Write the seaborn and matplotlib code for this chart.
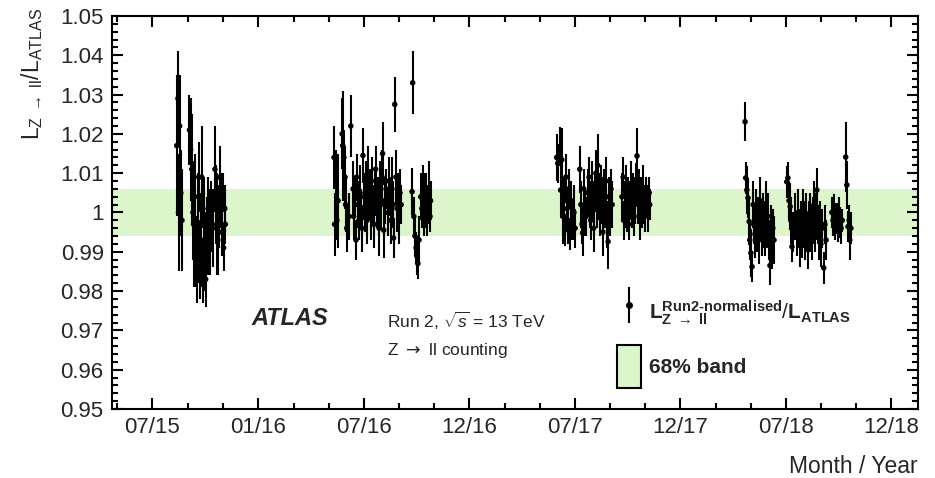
import matplotlib
matplotlib.use("Agg")
import matplotlib.pyplot as plt
import seaborn as sns
import pandas as pd
import numpy as np
from matplotlib.lines import Line2D
from matplotlib.patches import Patch
from matplotlib.legend_handler import HandlerTuple

# run day (days after 1 July 2015), ratio L_Z->ll / L_ATLAS and its uncertainty
day_2015 = [43, 45, 46, 48, 50, 52, 65, 67, 69, 71, 72, 74, 76, 78, 79, 81, 83, 85, 86, 88,
            90, 91, 93, 95, 97, 98, 100, 102, 105, 109, 110, 112, 114, 116, 117, 119, 121, 123,
            124, 126, 127]
ratio_2015 = [1.017, 1.029, 1.000, 1.022, 1.005, 0.998, 1.021, 1.016, 1.011, 1.000, 0.997,
              1.004, 0.990, 0.985, 0.996, 1.009, 0.988, 0.993, 1.009, 0.985, 0.998, 0.990,
              0.983, 0.994, 1.001, 0.995, 0.992, 0.999, 0.996, 1.011, 1.002, 0.997, 0.993,
              0.999, 1.009, 1.003, 0.995, 1.005, 0.991, 1.001, 0.997]
err_2015 = [0.018, 0.012, 0.015, 0.013, 0.011, 0.013, 0.009, 0.013, 0.014, 0.012, 0.016,
            0.011, 0.009, 0.008, 0.014, 0.009, 0.010, 0.012, 0.013, 0.008, 0.011, 0.010,
            0.007, 0.010, 0.008, 0.011, 0.008, 0.009, 0.010, 0.011, 0.010, 0.013, 0.009,
            0.008, 0.008, 0.007, 0.006, 0.005, 0.006, 0.006, 0.005]

day_2016 = [315, 316, 318, 320, 322, 329, 330, 332, 334, 335, 337, 341, 344, 348, 349, 351,
            353, 354, 356, 358, 360, 361, 363, 365, 367, 368, 370, 372, 373, 375, 377, 379,
            380, 382, 384, 386, 387, 389, 391, 393, 394, 396, 398, 399, 401, 403, 405, 408,
            410, 412, 413, 415, 417, 418, 420, 422, 424, 425, 427, 429, 431, 450, 451, 453,
            455, 457, 458, 460, 462, 465, 467, 469, 470, 472, 474, 476, 477, 479, 481, 482]
ratio_2016 = [1.014, 0.997, 1.009, 0.998, 1.003, 1.020, 1.017, 1.014, 1.009, 1.002,
              0.996, 0.999, 1.022, 1.006, 0.999, 1.004, 0.993, 1.009, 1.002, 0.998,
              1.005, 1.001, 0.996, 1.0145, 1.004, 1.000, 1.007, 0.998, 1.010, 1.003,
              1.006, 0.999, 1.008, 1.002, 0.997, 1.005, 1.011, 1.001, 1.004, 0.996,
              1.007, 1.002, 1.009, 1.015, 0.9955, 1.003, 1.006, 1.000, 1.008, 1.004,
              0.998, 1.006, 1.002, 0.9935, 1.0275, 1.009, 1.001, 1.004, 0.999, 1.005,
              1.002, 1.0053, 1.033, 0.999, 0.994, 0.991, 0.989, 0.987, 0.993, 1.004,
              1.001, 1.006, 0.999, 1.003, 1.005, 1.000, 1.002, 1.006, 0.999, 1.003]
err_2016 = [0.008, 0.008, 0.007, 0.005, 0.012, 0.009, 0.014, 0.007, 0.008, 0.007,
            0.006, 0.006, 0.008, 0.007, 0.006, 0.005, 0.005, 0.006, 0.006, 0.005,
            0.007, 0.005, 0.006, 0.007, 0.006, 0.005, 0.006, 0.006, 0.007, 0.005,
            0.005, 0.006, 0.006, 0.005, 0.006, 0.006, 0.006, 0.005, 0.005, 0.007,
            0.006, 0.006, 0.007, 0.008, 0.007, 0.006, 0.005, 0.006, 0.006, 0.005,
            0.006, 0.008, 0.006, 0.005, 0.007, 0.007, 0.006, 0.006, 0.007, 0.006,
            0.005, 0.006, 0.008, 0.005, 0.005, 0.004, 0.005, 0.004, 0.006, 0.006,
            0.005, 0.006, 0.005, 0.007, 0.005, 0.006, 0.005, 0.007, 0.004, 0.005]

day_2017 = [700, 702, 706, 707, 709, 711, 713, 714, 716, 718, 719, 721, 723, 725, 726, 730,
            732, 740, 742, 744, 745, 747, 749, 751, 754, 756, 758, 759, 761, 763, 764, 766,
            768, 770, 771, 773, 775, 777, 778, 780, 782, 784, 785, 787, 789, 790, 792, 794,
            796, 813, 815, 816, 818, 820, 822, 823, 825, 827, 828, 830, 832, 834, 835, 837,
            839, 841, 842, 844, 846, 848, 849, 851, 853, 854, 856, 858, 860, 861]
ratio_2017 = [1.014, 1.0125, 1.0167, 1.0057, 1.0134, 0.999, 1.003, 0.9955, 1.009, 1.001,
              0.997, 1.006, 0.9945, 1.003, 0.998, 1.000, 0.996, 1.011, 1.002, 0.997,
              0.9948, 1.006, 1.000, 0.999, 1.005, 1.009, 1.002, 0.998, 1.007, 1.003,
              0.996, 1.005, 1.010, 1.001, 1.012, 1.004, 0.999, 1.007, 1.003, 0.995,
              1.006, 1.001, 1.008, 0.997, 0.9926, 1.004, 1.000, 1.006, 1.002, 1.004,
              1.009, 0.998, 1.002, 1.006, 1.000, 1.004, 0.997, 1.003, 1.007, 1.001,
              1.005, 0.999, 1.003, 1.0075, 1.0144, 1.002, 1.005, 0.998, 1.004, 1.001,
              1.006, 1.002, 0.999, 1.004, 1.003, 1.000, 1.005, 1.002]
err_2017 = [0.006, 0.005, 0.005, 0.007, 0.008, 0.007, 0.006, 0.004, 0.006, 0.005,
            0.005, 0.005, 0.004, 0.005, 0.005, 0.007, 0.005, 0.006, 0.006, 0.005,
            0.006, 0.005, 0.006, 0.005, 0.006, 0.005, 0.006, 0.005, 0.006, 0.005,
            0.006, 0.005, 0.006, 0.005, 0.008, 0.006, 0.005, 0.005, 0.006, 0.006,
            0.005, 0.005, 0.006, 0.006, 0.007, 0.005, 0.006, 0.005, 0.006, 0.006,
            0.005, 0.005, 0.006, 0.006, 0.005, 0.005, 0.004, 0.005, 0.006, 0.005,
            0.005, 0.005, 0.006, 0.005, 0.007, 0.005, 0.006, 0.005, 0.005, 0.005,
            0.006, 0.005, 0.004, 0.005, 0.004, 0.005, 0.004, 0.004]

day_2018 = [1026, 1027, 1029, 1031, 1033, 1034, 1036, 1038, 1040, 1041, 1043, 1045, 1046,
            1048, 1050, 1052, 1053, 1055, 1057, 1059, 1060, 1062, 1064, 1065, 1067, 1069,
            1071, 1072, 1074, 1076, 1098, 1100, 1102, 1104, 1105, 1107, 1109, 1112, 1116,
            1117, 1119, 1121, 1123, 1124, 1126, 1128, 1130, 1131, 1133, 1135, 1136, 1138,
            1140, 1142, 1143, 1145, 1147, 1149, 1150, 1152, 1154, 1155, 1157, 1159, 1162,
            1164, 1166, 1176, 1178, 1180, 1181, 1183, 1185, 1187, 1188, 1190, 1192, 1194,
            1200, 1202, 1204, 1206, 1207, 1209]
ratio_2018 = [1.0231, 1.0088, 1.0057, 1.0037, 0.9977, 0.993, 0.9897, 0.9862, 1.002, 0.997,
              0.9945, 1.001, 0.996, 0.999, 0.993, 1.003, 0.998, 0.995, 1.000, 0.997,
              0.994, 1.002, 0.996, 0.999, 0.993, 0.9865, 0.997, 0.9915, 0.996, 0.993,
              1.0078, 1.0088, 1.003, 1.0015, 0.998, 0.9913, 0.995, 0.999,
              0.994, 1.000, 0.996, 0.992, 0.998, 0.9945, 1.001, 0.997, 0.993, 0.999,
              0.995, 0.9905, 0.997, 1.000, 0.996, 0.993, 0.998, 1.002, 0.995, 0.999,
              1.0057, 0.997, 0.994, 0.998, 0.992, 0.996,
              0.9859, 0.997, 0.993,
              1.000, 0.998, 1.0006, 0.997, 0.9995, 0.9985, 0.9965, 1.000, 0.9975, 0.996, 0.998,
              1.0141, 1.007, 0.9964, 0.998, 0.993, 0.996]
err_2018 = [0.005, 0.004, 0.006, 0.005, 0.006, 0.005, 0.006, 0.004, 0.006, 0.005,
            0.006, 0.005, 0.006, 0.005, 0.006, 0.006, 0.005, 0.006, 0.005, 0.006,
            0.005, 0.006, 0.005, 0.006, 0.005, 0.005, 0.005, 0.006, 0.005, 0.006,
            0.004, 0.004, 0.005, 0.006, 0.006, 0.004, 0.005, 0.006,
            0.005, 0.006, 0.005, 0.006, 0.005, 0.006, 0.005, 0.006, 0.005, 0.006,
            0.005, 0.005, 0.006, 0.005, 0.006, 0.005, 0.006, 0.006, 0.005, 0.006,
            0.0055, 0.005, 0.006, 0.005, 0.006, 0.005,
            0.004, 0.005, 0.005,
            0.004, 0.004, 0.004, 0.004, 0.003, 0.004, 0.004, 0.004, 0.004, 0.004, 0.003,
            0.009, 0.006, 0.004, 0.004, 0.005, 0.004]

band_half_width = 0.006
tick_dates = ["2015-07-02", "2016-01-01", "2016-07-01", "2016-12-31",
              "2017-07-01", "2017-12-31", "2018-07-01", "2018-12-31"]
y_ticks = [0.95, 0.96, 0.97, 0.98, 0.99, 1.00, 1.01, 1.02, 1.03, 1.04, 1.05]

t0 = pd.Timestamp("2015-07-01")
frames = []
for d, r, e in [(day_2015, ratio_2015, err_2015), (day_2016, ratio_2016, err_2016),
                (day_2017, ratio_2017, err_2017), (day_2018, ratio_2018, err_2018)]:
    frames.append(pd.DataFrame({"day": d, "ratio": r, "err": e}))
df = pd.concat(frames, ignore_index=True)
df["date"] = t0 + pd.to_timedelta(df["day"], unit="D")

sns.set_style("ticks")
plt.rcParams["font.family"] = ["Liberation Sans", "DejaVu Sans"]
plt.rcParams["mathtext.fontset"] = "custom"
plt.rcParams["mathtext.rm"] = "Liberation Sans"
plt.rcParams["mathtext.it"] = "Liberation Sans:italic"
plt.rcParams["mathtext.bf"] = "Liberation Sans:bold"

band_color = "#dcf5cb"
fig = plt.figure(figsize=(9.35, 4.78), dpi=100)
ax = fig.add_axes([0.1198, 0.1444, 0.862, 0.8222])

ax.axhspan(1 - band_half_width, 1 + band_half_width, color=band_color, lw=0, zorder=0)
ax.errorbar(df["date"], df["ratio"], yerr=df["err"], fmt="none", ecolor="black",
            elinewidth=1.5, capsize=0, zorder=2)
sns.scatterplot(data=df, x="date", y="ratio", color="black", s=16, edgecolor="none",
                ax=ax, zorder=3, legend=False)

# axes (ticks first, limits after so the minor ticks do not widen the range)
majors = pd.to_datetime(tick_dates)
ax.set_xticks(majors)
ax.set_xticklabels([m.strftime("%m/%y") for m in majors])
minors = [majors[0] - pd.Timedelta(days=61)]
for m in majors[:-1]:
    minors += [m + pd.Timedelta(days=61), m + pd.Timedelta(days=122)]
ax.set_xticks(minors, minor=True)
ax.set_xlim(t0 + pd.Timedelta(days=-69), t0 + pd.Timedelta(days=1325))
ax.set_yticks(y_ticks)
ax.set_yticklabels([f"{v:g}" for v in y_ticks])
ax.set_yticks(np.arange(0.95, 1.0501, 0.002), minor=True)
ax.set_ylim(0.95, 1.05)

ax.tick_params(which="both", direction="in", top=True, right=True, width=1.5,
               color="black", labelsize=16)
ax.tick_params(which="major", length=8, pad=6)
ax.tick_params(which="minor", length=4)
for s in ax.spines.values():
    s.set_linewidth(1.5)
    s.set_color("black")

ax.set_xlabel("Month / Year", fontsize=16.5, loc="right")
ax.xaxis.set_label_coords(1.0, -0.117)
ax.set_ylabel(r"$\mathrm{L}_{\mathrm{Z\ \rightarrow\ ll}}/\mathrm{L}_{\mathrm{ATLAS}}$",
              fontsize=16.5, loc="top")
ax.yaxis.set_label_coords(-0.083, 1.02)

ax.text(0.1725, 0.229, "ATLAS", transform=ax.transAxes, fontsize=17,
        fontweight="bold", fontstyle="italic", va="center")
ax.text(0.341, 0.224, r"Run 2, $\sqrt{s}$ = 13 TeV", transform=ax.transAxes,
        fontsize=12.5, va="center")
ax.text(0.341, 0.148, r"Z $\rightarrow$ ll counting", transform=ax.transAxes,
        fontsize=12.5, va="center", math_fontfamily="dejavusans")

eb_handle = (Line2D([], [], color="black", marker="|", markersize=26, markeredgewidth=1.5,
                    linestyle="none"),
             Line2D([], [], color="black", marker="o", markersize=4, linestyle="none"))
band_handle = Patch(facecolor=band_color, edgecolor="black", linewidth=1.5)
ratio_label = (r"$\mathbf{L}^{\mathbf{Run2" + "\u2010" + r"normalised}}"
               r"_{\mathbf{Z\ \rightarrow\ ll}}/\mathbf{L}_{\mathbf{ATLAS}}$")
ax.legend([eb_handle, band_handle], [ratio_label, "68% band"],
          handler_map={tuple: HandlerTuple(ndivide=1)}, loc="upper left",
          bbox_to_anchor=(0.627, 0.299), frameon=False,
          prop={"weight": "bold", "size": 15}, handlelength=1.15, handleheight=2.8,
          handletextpad=0.35, labelspacing=0.5, borderpad=0, borderaxespad=0)

fig.savefig("out.png", dpi=100)
